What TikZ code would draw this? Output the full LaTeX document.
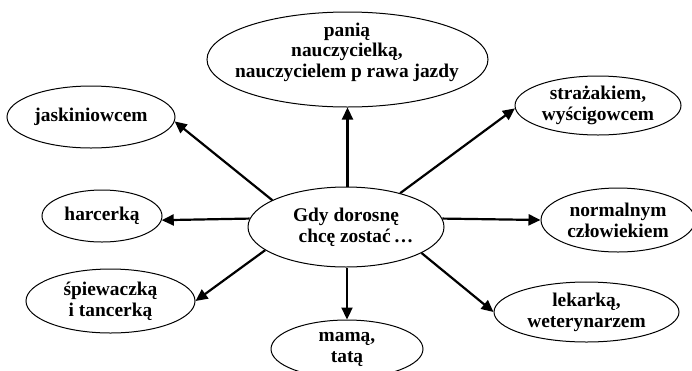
\documentclass[tikz,border=0pt]{standalone}
\usepackage{fontspec}
\setmainfont{Liberation Serif}
\usetikzlibrary{shapes.geometric,arrows.meta}
\begin{document}
\begin{tikzpicture}[x=1pt,y=-1pt,
  bubble/.style={ellipse, draw, line width=1pt, inner sep=0pt, align=center,
    font=\bfseries\fontsize{19.4}{21}\selectfont},
  caption/.style={inner sep=0pt, align=center,
    font=\bfseries\fontsize{19.4}{20.5}\selectfont},
  link/.style={line width=2.2pt, -{Triangle[length=12pt,width=11pt]}}]
\clip (0,0) rectangle (692,370);
\fill[white] (0,0) rectangle (692,370);

% central idea
\node[bubble, minimum width=196pt, minimum height=80pt] (c) at (346,227)
  {Gdy dorosnę\\\hspace*{20pt}chcę zostać\,…};

% answers around it
\node[bubble, minimum width=281pt, minimum height=95pt] (top) at (347.5,59.5) {};
\node[caption] (topT) at (347,52) {panią\\nauczycielką,\\nauczycielem p rawa jazdy};
\node[bubble, minimum width=168pt, minimum height=62pt] (jask) at (91,117) {jaskiniowcem};
\node[bubble, minimum width=166pt, minimum height=59pt] (str) at (598,105.5) {strażakiem,\\wyścigowcem};
\node[bubble, minimum width=120pt, minimum height=52pt] (harc) at (102,216) {harcerką};
\node[bubble, minimum width=169pt, minimum height=64pt] (sp) at (110.5,301) {śpiewaczką\\i tancerką};
\node[bubble, minimum width=152pt, minimum height=58pt] (mama) at (347,349) {mamą,\\tatą};
\node[bubble, minimum width=154pt, minimum height=64pt] (norm) at (618,220) {normalnym\\człowiekiem};
\node[bubble, minimum width=185pt, minimum height=60pt] (lek) at (586.5,312) {lekarką,\\weterynarzem};

% connectors from the centre
\draw[link] (c.north -| top.south) -- (top.south);
\draw[link] (c.160) -- (jask.-3);
\draw[link] (c.32) -- (str.182);
\draw[link] (c.175) -- (harc.-4);
\draw[link] (c.196) -- (sp.east);
\draw[link] (c.south -| mama.north) -- (mama.north);
\draw[link] (c.5) -- (norm.west);
\draw[link] (c.-19) -- (lek.west);
\end{tikzpicture}
\end{document}
